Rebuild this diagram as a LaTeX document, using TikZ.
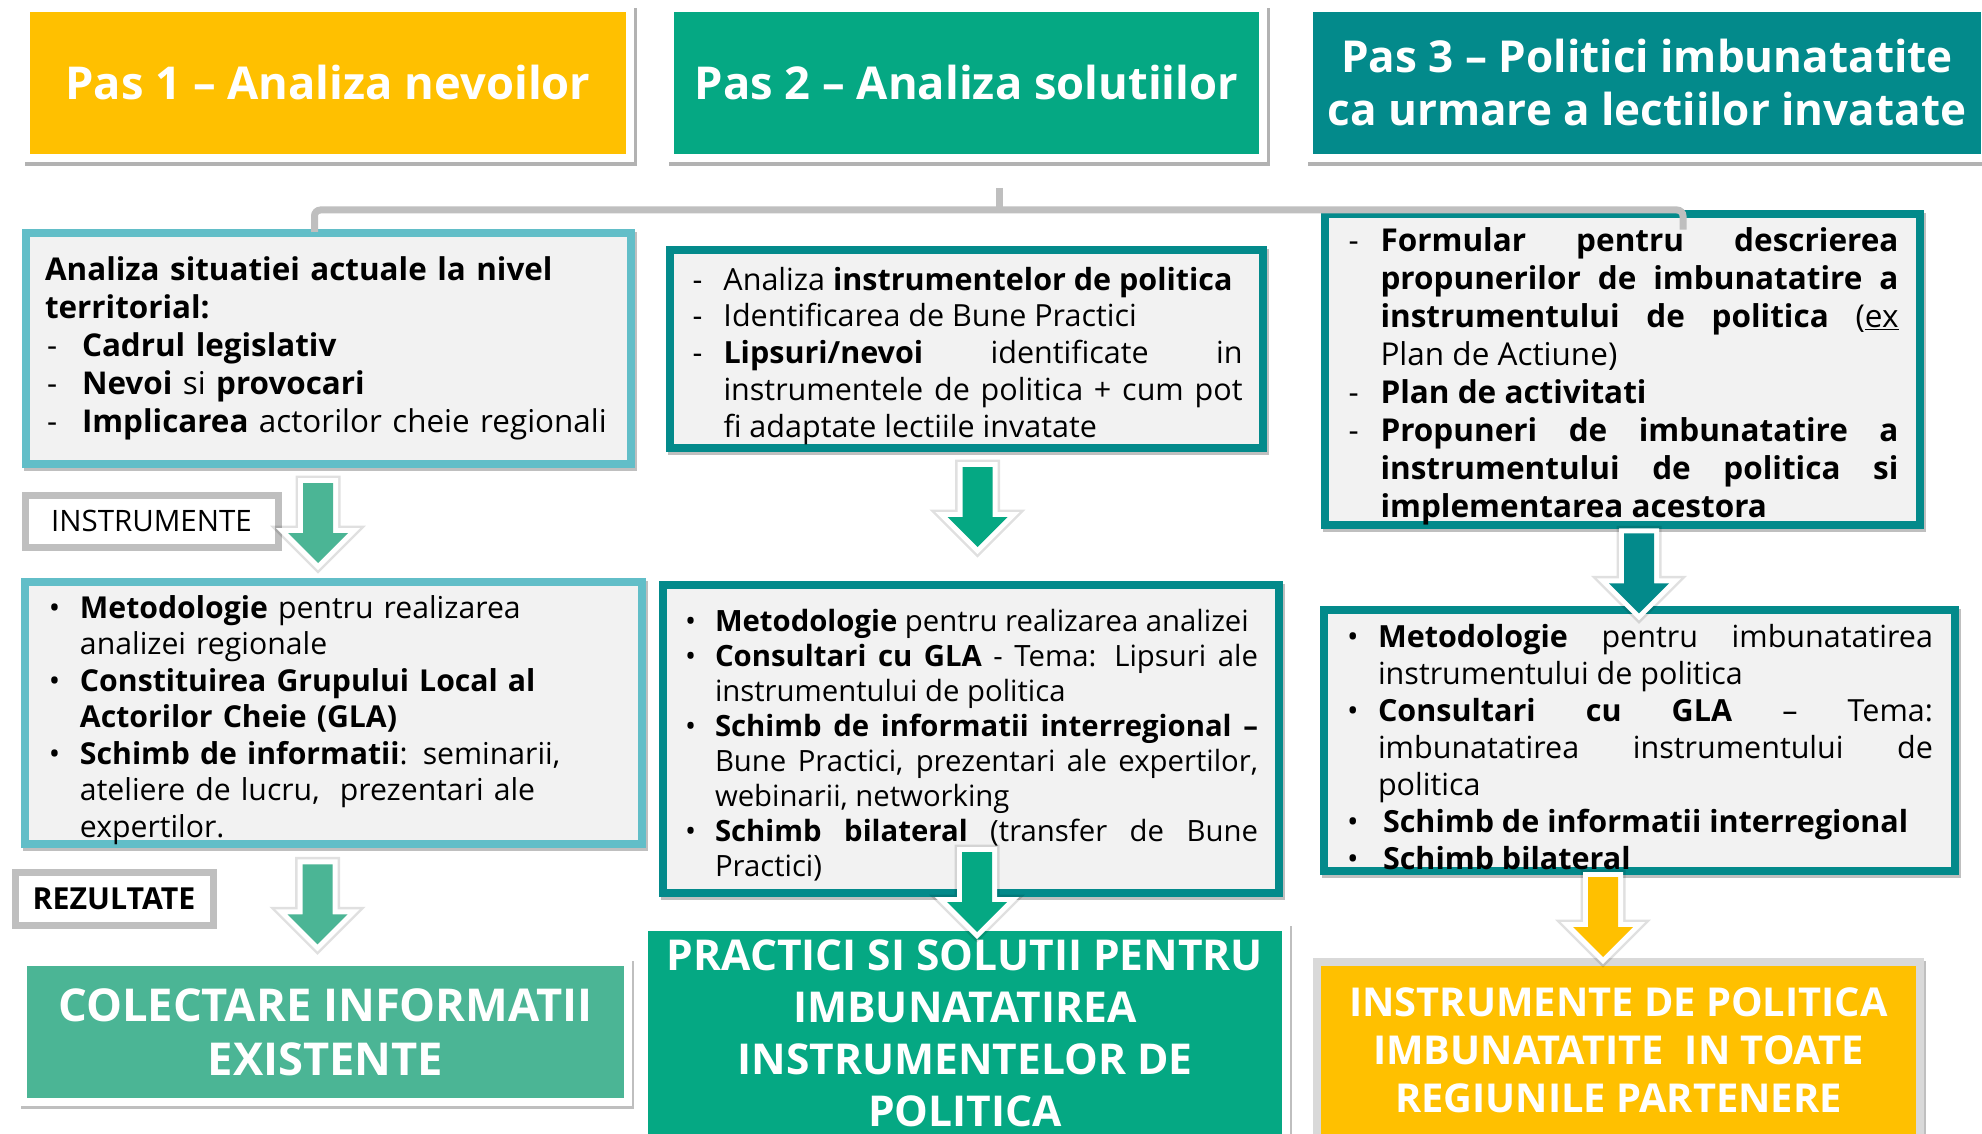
\documentclass[tikz,border=0pt]{standalone}
\usepackage{fontspec}
\setmainfont{Open Sans}
\usepackage{xcolor}
\usepackage{tikz}
\usetikzlibrary{calc,shadows}

\definecolor{pasyellow}{HTML}{FFC000}
\definecolor{pasgreen}{HTML}{05A883}
\definecolor{pasteal}{HTML}{038A8B}
\definecolor{lightteal}{HTML}{62BEC8}
\definecolor{softgreen}{HTML}{4BB595}
\definecolor{linegray}{HTML}{BFBFBF}
\definecolor{boxgray}{HTML}{F2F2F2}
\definecolor{framegray}{HTML}{D9D9D9}

\newlength{\itemind}
\newcommand{\dashit}{\par\noindent\hangindent=\itemind\hangafter=1\makebox[\itemind][l]{\hspace{2pt}-}}
\newcommand{\dotit}{\par\noindent\hangindent=\itemind\hangafter=1\makebox[\itemind][l]{\hspace{1pt}\textbullet}}
\newcommand{\blockdown}[2]{%
  \path[preaction={draw=black, draw opacity=0.12, line width=15pt, line join=miter},
        preaction={draw=white, line width=10pt, line join=miter}, fill=#1]
    (#2) ++(-15,0) -- ++(30,0) -- ++(0,50) -- ++(15,0) -- ++(-30,30) -- ++(-30,-30) -- ++(15,0) -- cycle;}

\tikzstyle{title} = [draw=white, line width=8pt, text=white, align=center, drop shadow={opacity=0.3, shadow xshift=3pt, shadow yshift=-4pt, draw=black, line width=8pt}]
\tikzstyle{infobox} = [fill=boxgray, line width=8pt, inner sep=0pt, drop shadow={opacity=0.25, shadow xshift=2pt, shadow yshift=-3pt, draw=black, line width=8pt}]
\tikzstyle{tag} = [draw=linegray, fill=white, line width=7pt, inner sep=0pt]
\tikzstyle{result} = [line width=8pt, text=white, align=center, drop shadow={opacity=0.25, shadow xshift=2pt, shadow yshift=-3pt, draw=black, line width=8pt}]
\tikzstyle{bracket} = [draw=linegray, line width=7pt, rounded corners=6pt]

\begin{document}
\begin{tikzpicture}[x=1pt, y=-1pt]
\useasboundingbox (0,0) rectangle (1982,1134);

% the three steps
\node[title, fill=pasyellow, minimum width=604pt, minimum height=150pt, font=\fontsize{45.3}{53}\selectfont\bfseries] (pas1) at (328,83) {Pas 1 – Analiza nevoilor};
\node[title, fill=pasgreen, minimum width=593pt, minimum height=150pt, font=\fontsize{45.3}{53}\selectfont\bfseries] (pas2) at (966.5,83) {Pas 2 – Analiza solutiilor};
\node[title, fill=pasteal, minimum width=676pt, minimum height=150pt, font=\fontsize{44}{53}\selectfont\bfseries] (pas3) at (1647,83) {Pas 3 – Politici imbunatatite\\ca urmare a lectiilor invatate};

% what each step does
\node[infobox, draw=lightteal, minimum width=605pt, minimum height=231pt, text width=567pt, align=left, font=\fontsize{31.4}{38}\selectfont] (sit) at (328.5,348.5) {\setlength{\itemind}{37pt}%
\textbf{Analiza situatiei actuale la nivel\newline territorial:}
\dashit\textbf{Cadrul legislativ}
\dashit\textbf{Nevoi} si \textbf{provocari}
\dashit\textbf{Implicarea} actorilor cheie regionali\par};
\node[infobox, draw=pasteal, minimum width=593pt, minimum height=198pt, text width=552pt, align=justify, font=\fontsize{30.5}{36.7}\selectfont] (anl) at (966.5,349) {\setlength{\itemind}{33pt}%
\dashit Analiza \textbf{instrumentelor de politica}
\dashit Identificarea de Bune Practici
\dashit\textbf{Lipsuri/nevoi} identificate in\linebreak instrumentele de politica + cum pot\linebreak fi adaptate lectiile invatate\par};
\node[infobox, draw=pasteal, minimum width=595pt, minimum height=309pt, text width=552pt, align=justify, font=\fontsize{31.5}{38}\selectfont] (frm) at (1622.5,369.5) {\setlength{\itemind}{34pt}%
\dashit\textbf{Formular pentru descrierea\linebreak propunerilor de imbunatatire a\linebreak instrumentului de politica} (\underline{ex}\linebreak Plan de Actiune)
\dashit\textbf{Plan de activitati}
\dashit\textbf{Propuneri de imbunatatire a\linebreak instrumentului de politica si\linebreak implementarea acestora}\par};

% tools
\node[infobox, draw=lightteal, minimum width=617pt, minimum height=258pt, text width=571pt, align=left, font=\fontsize{30.2}{36.5}\selectfont] (met1) at (333.5,713) {\setlength{\itemind}{32pt}%
\dotit\textbf{Metodologie} pentru realizarea\newline analizei regionale
\dotit\textbf{Constituirea Grupului Local al\newline Actorilor Cheie (GLA)}
\dotit\textbf{Schimb de informatii}: seminarii,\newline ateliere de lucru,~ prezentari ale\newline expertilor.\par};
\node[infobox, draw=pasteal, minimum width=616pt, minimum height=308pt, text width=574pt, align=justify, font=\fontsize{29.3}{35}\selectfont] (met2) at (971,739) {\setlength{\itemind}{31pt}%
\dotit\textbf{Metodologie} pentru realizarea analizei
\dotit\textbf{Consultari cu GLA} - Tema: Lipsuri ale\linebreak instrumentului de politica
\dotit\textbf{Schimb de informatii interregional –}\linebreak Bune Practici, prezentari ale expertilor,\linebreak webinarii, networking
\dotit\textbf{Schimb bilateral} (transfer de Bune\linebreak Practici)\par};
\node[infobox, draw=pasteal, minimum width=631pt, minimum height=261pt, text width=587pt, align=justify, font=\fontsize{30.5}{36.9}\selectfont] (met3) at (1639.5,740) {\setlength{\itemind}{32pt}%
\dotit\textbf{Metodologie} pentru imbunatatirea\linebreak instrumentului de politica
\dotit\textbf{Consultari cu GLA} – Tema:\linebreak imbunatatirea instrumentului de\linebreak politica
\dotit\hspace{5pt}\textbf{Schimb de informatii interregional}
\dotit\hspace{5pt}\textbf{Schimb bilateral}\par};

% side labels
\node[tag, minimum width=253pt, minimum height=52pt, font=\fontsize{29.5}{34}\selectfont] (instr) at (151.5,521) {INSTRUMENTE};
\node[tag, minimum width=198pt, minimum height=53pt, font=\fontsize{30.3}{34}\selectfont\bfseries] (rez) at (114,898.5) {REZULTATE};

% results
\node[result, draw=white, fill=softgreen, minimum width=605pt, minimum height=140pt, font=\fontsize{45.3}{54}\selectfont\bfseries] (col) at (325.5,1032) {COLECTARE INFORMATII\\EXISTENTE};
\node[result, draw=white, fill=pasgreen, minimum width=642pt, minimum height=212pt, font=\fontsize{42.5}{52}\selectfont\bfseries] (prac) at (965,1033) {PRACTICI SI SOLUTII PENTRU\\IMBUNATATIREA\\INSTRUMENTELOR DE\\POLITICA};
\node[result, draw=framegray, fill=pasyellow, minimum width=603pt, minimum height=176pt, font=\fontsize{39.8}{48}\selectfont\bfseries] (pol) at (1618.5,1050) {INSTRUMENTE DE POLITICA\\IMBUNATATITE~~IN TOATE\\REGIUNILE PARTENERE};

% gray bracket under the steps
\coordinate (hub) at ($(pas2.south)+(32.5,26)$);
\draw[bracket] ($(sit.north)+(-14,3)$) |- ($(hub)+(0,22)$) -| ($(frm.north)+(60.5,20)$);
\draw[bracket] (hub) -- ++(0,22);

% block arrows
\blockdown{softgreen}{$(sit.south)+(-10.5,15)$}
\blockdown{softgreen}{$(met1.south)+(-16,16)$}
\blockdown{pasgreen}{$(anl.south)+(11,15)$}
\blockdown{pasgreen}{$(met2.south)+(6,-45)$}
\blockdown{pasteal}{$(frm.south)+(16.5,4)$}
\blockdown{pasyellow}{$(met3.south)+(-36.5,2.5)$}

\end{tikzpicture}
\end{document}
